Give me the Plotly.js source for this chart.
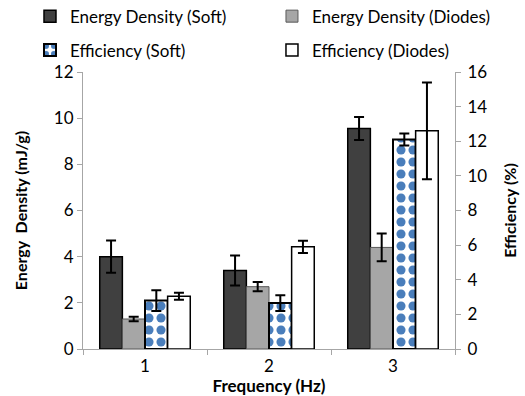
<!DOCTYPE html>
<html>
<head>
<meta charset="utf-8">
<script src="https://cdn.plot.ly/plotly-3.0.1.min.js"></script>
<style>html,body{margin:0;padding:0;background:#fff}#chart{width:525px;height:396px}</style>
</head>
<body>
<div id="chart"></div>
<script>
const categories = ['1', '2', '3'];
const energySoft = [4.0, 3.4, 9.55];
const energySoftErr = [0.7, 0.65, 0.5];
const energyDiodes = [1.3, 2.7, 4.4];
const energyDiodesErr = [0.1, 0.2, 0.6];
const effSoft = [2.8, 2.65, 12.1];
const effSoftErr = [0.6, 0.45, 0.35];
const effDiodes = [3.05, 5.9, 12.6];
const effDiodesErr = [0.2, 0.35, 2.8];
const leftTicks = [0, 2, 4, 6, 8, 10, 12];
const rightTicks = [0, 2, 4, 6, 8, 10, 12, 14, 16];

const FONT = 'Lato, "Open Sans", sans-serif';
const errStyle = (arr) => ({type: 'data', array: arr, visible: true, color: '#000', thickness: 2, width: 5});

const traces = [
  {type: 'bar', name: 'Energy Density (Soft)', x: categories, y: energySoft, yaxis: 'y',
   offsetgroup: 'a', alignmentgroup: 'g', legend: 'legend',
   marker: {color: '#404040', line: {color: '#000', width: 1.5}}, error_y: errStyle(energySoftErr)},
  {type: 'bar', name: 'Energy Density (Diodes)', x: categories, y: energyDiodes, yaxis: 'y',
   offsetgroup: 'b', alignmentgroup: 'g', legend: 'legend2',
   marker: {color: '#a6a6a6', line: {color: '#595959', width: 1}}, error_y: errStyle(energyDiodesErr)},
  {type: 'bar', name: 'Efficiency (Soft)', x: categories, y: effSoft, yaxis: 'y2',
   offsetgroup: 'c', alignmentgroup: 'g', legend: 'legend3',
   marker: {color: '#ffffff', line: {color: '#000', width: 2},
            pattern: {shape: '.', fgcolor: '#4a7ebb', bgcolor: '#ffffff', fgopacity: 1, size: 12, solidity: 0.45}},
   error_y: errStyle(effSoftErr)},
  {type: 'bar', name: 'Efficiency (Diodes)', x: categories, y: effDiodes, yaxis: 'y2',
   offsetgroup: 'd', alignmentgroup: 'g', legend: 'legend4',
   marker: {color: '#ffffff', line: {color: '#000', width: 1.5}}, error_y: errStyle(effDiodesErr)}
];

const legendCommon = {orientation: 'h', xanchor: 'left', yanchor: 'middle',
  font: {family: FONT, size: 17, color: '#000'}, bgcolor: 'rgba(0,0,0,0)', borderwidth: 0,
  itemclick: false};

const layout = {
  width: 525, height: 396,
  margin: {l: 83, r: 70, t: 72, b: 47, pad: 0, autoexpand: false},
  paper_bgcolor: '#fff', plot_bgcolor: '#fff',
  barmode: 'group', bargap: 0.27, bargroupgap: 0,
  font: {family: FONT, size: 17, color: '#000'},
  xaxis: {type: 'category', tickson: 'boundaries', ticks: 'outside', ticklen: 5, tickcolor: '#a6a6a6',
          showline: true, linecolor: '#a6a6a6', linewidth: 1, showgrid: false, zeroline: false,
          ticklabelstandoff: 2,
          tickfont: {family: FONT, size: 17, color: '#000'},
          title: {text: 'Frequency (Hz)', font: {family: FONT, size: 17, color: '#000', weight: 'bold'}, standoff: 10}},
  yaxis: {range: [0, 12], tickvals: leftTicks, ticks: 'outside', ticklen: 5, tickcolor: '#a6a6a6',
          showline: true, linecolor: '#a6a6a6', linewidth: 1, showgrid: false, zeroline: false,
          tickfont: {family: FONT, size: 17, color: '#000'},
          title: {text: 'Energy  Density (mJ/g)', font: {family: FONT, size: 16, color: '#000', weight: 'bold'}, standoff: 22}},
  yaxis2: {range: [0, 16], tickvals: rightTicks, overlaying: 'y', side: 'right', ticks: 'outside', ticklen: 5,
           tickcolor: '#a6a6a6', showline: true, linecolor: '#a6a6a6', linewidth: 1, showgrid: false, zeroline: false,
           ticklabelstandoff: 3,
           tickfont: {family: FONT, size: 17, color: '#000'},
           title: {text: 'Efficiency (%)', font: {family: FONT, size: 16, color: '#000', weight: 'bold'}, standoff: 18}},
  legend: Object.assign({}, legendCommon, {x: -0.1425, y: 1.2}),
  legend2: Object.assign({}, legendCommon, {x: 0.508, y: 1.2}),
  legend3: Object.assign({}, legendCommon, {x: -0.1425, y: 1.078}),
  legend4: Object.assign({}, legendCommon, {x: 0.508, y: 1.078}),
  showlegend: true
};

Plotly.newPlot('chart', traces, layout, {displayModeBar: false, staticPlot: true});
</script>
</body>
</html>
